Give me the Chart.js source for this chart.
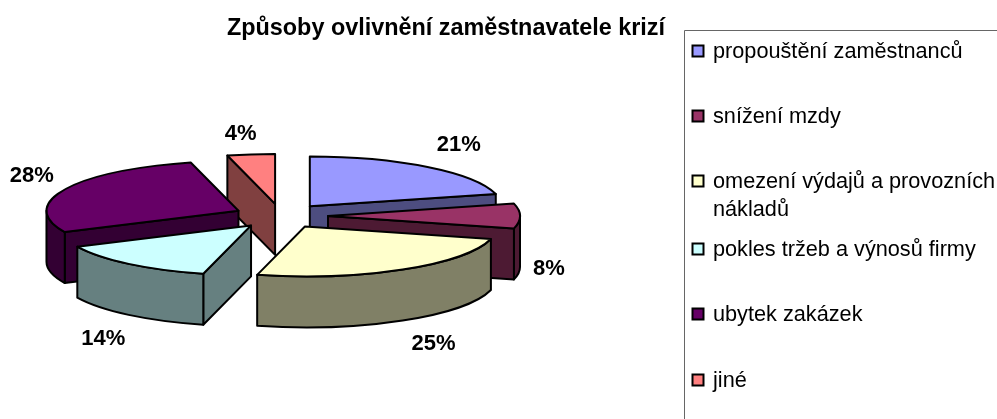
<!DOCTYPE html>
<html>
<head>
<meta charset="utf-8">
<title>Způsoby ovlivnění zaměstnavatele krizí</title>
<script src="https://cdn.jsdelivr.net/npm/chart.js@4"></script>
<style>
    html, body { margin: 0; padding: 0; background: #fff; overflow: hidden; }
    canvas { display: block; }
</style>
</head>
<body>
<canvas id="chart" width="997" height="419"></canvas>
<script>
const chartTitle = 'Způsoby ovlivnění zaměstnavatele krizí';
const categories = [
    'propouštění zaměstnanců',
    'snížení mzdy',
    'omezení výdajů a provozních nákladů',
    'pokles tržeb a výnosů firmy',
    'ubytek zakázek',
    'jiné'
];
const percentages = [21, 8, 25, 14, 28, 4];
const sliceColors = ['#9999FF', '#993366', '#FFFFCC', '#CCFFFF', '#660066', '#FF8080'];
const wallColors = ['#4D4D80', '#4D1A33', '#808066', '#668080', '#330033', '#804040'];

// Legend lines, wrapped the way the original wraps them
const legendLines = [
    ['propouštění zaměstnanců'],
    ['snížení mzdy'],
    ['omezení výdajů a provozních', 'nákladů'],
    ['pokles tržeb a výnosů firmy'],
    ['ubytek zakázek'],
    ['jiné']
];

const FONT = '"Liberation Sans", Arial, sans-serif';

// Doughnut controller drawn as a tilted, extruded pie
class Pie3DController extends Chart.DoughnutController {
    draw() {
        const ctx = this.chart.ctx;
        const opts = this.chart.options.plugins.pie3d;
        const tilt = opts.tilt;
        const depth = opts.depth;
        const slices = this._cachedMeta.data.map((arc, index) => {
            const props = arc.getProps(['startAngle', 'endAngle', 'outerRadius'], true);
            const mid = (props.startAngle + props.endAngle) / 2;
            const off = arc.options.offset;
            return {
                index: index,
                a0: props.startAngle,
                a1: props.endAngle,
                r: props.outerRadius,
                mid: mid,
                ax: opts.centerX + Math.cos(mid) * off,
                ay: opts.centerY + Math.sin(mid) * off * tilt
            };
        });

        // Back to front
        slices.slice().sort((a, b) => a.ay - b.ay).forEach(s => {
            ctx.save();
            ctx.lineWidth = 2;
            ctx.lineJoin = 'round';
            ctx.strokeStyle = '#000';
            ctx.fillStyle = wallColors[s.index];

            const radialWall = angle => {
                const x = s.ax + Math.cos(angle) * s.r;
                const y = s.ay + Math.sin(angle) * s.r * tilt;
                ctx.beginPath();
                ctx.moveTo(s.ax, s.ay);
                ctx.lineTo(x, y);
                ctx.lineTo(x, y + depth);
                ctx.lineTo(s.ax, s.ay + depth);
                ctx.closePath();
                ctx.fill();
                ctx.stroke();
            };
            if (Math.cos(s.a0) < -1e-6) radialWall(s.a0);
            if (Math.cos(s.a1) > 1e-6) radialWall(s.a1);

            // Outer wall, only the part that faces the viewer
            const lo = Math.max(s.a0, 0);
            const hi = Math.min(s.a1, Math.PI);
            if (lo < hi) {
                ctx.beginPath();
                ctx.ellipse(s.ax, s.ay, s.r, s.r * tilt, 0, lo, hi);
                ctx.ellipse(s.ax, s.ay + depth, s.r, s.r * tilt, 0, hi, lo, true);
                ctx.closePath();
                ctx.fill();
                ctx.stroke();
            }

            // Top face
            ctx.fillStyle = sliceColors[s.index];
            ctx.beginPath();
            ctx.moveTo(s.ax, s.ay);
            ctx.ellipse(s.ax, s.ay, s.r, s.r * tilt, 0, s.a0, s.a1);
            ctx.closePath();
            ctx.fill();
            ctx.stroke();
            ctx.restore();
        });

        // Percentage labels
        ctx.save();
        ctx.font = opts.labelFont;
        ctx.fillStyle = '#000';
        ctx.textAlign = 'center';
        ctx.textBaseline = 'middle';
        slices.forEach(s => {
            const nudge = opts.labelNudge[s.index];
            const front = Math.sin(s.mid) > -0.01 ? depth : 0;
            const x = s.ax + Math.cos(s.mid) * opts.labelRadiusX + nudge[0];
            const y = s.ay + Math.sin(s.mid) * opts.labelRadiusY + front + nudge[1];
            ctx.fillText(percentages[s.index] + '%', x, y);
        });
        ctx.restore();
    }
}
Pie3DController.id = 'pie3d';
Chart.register(Pie3DController);

const boxedLegend = {
    id: 'boxedLegend',
    afterDraw(chart, args, opts) {
        const ctx = chart.ctx;
        ctx.save();
        ctx.strokeStyle = '#666';
        ctx.lineWidth = 1;
        ctx.beginPath();
        ctx.moveTo(opts.left + 0.5, chart.height);
        ctx.lineTo(opts.left + 0.5, opts.top + 0.5);
        ctx.lineTo(chart.width, opts.top + 0.5);
        ctx.stroke();

        ctx.font = opts.font;
        ctx.textBaseline = 'alphabetic';
        legendLines.forEach((lines, i) => {
            const y = opts.rows[i];
            ctx.fillStyle = sliceColors[i];
            ctx.strokeStyle = '#000';
            ctx.lineWidth = 2;
            ctx.fillRect(opts.swatchX, y - 5.5, 11, 11);
            ctx.strokeRect(opts.swatchX, y - 5.5, 11, 11);
            ctx.fillStyle = '#000';
            lines.forEach((line, n) => {
                ctx.fillText(line, opts.textX, y + 7 + n * opts.lineHeight);
            });
        });
        ctx.restore();
    }
};

new Chart(document.getElementById('chart'), {
    type: 'pie3d',
    data: {
        labels: categories,
        datasets: [{
            data: percentages,
            backgroundColor: sliceColors,
            offset: 47,
            borderWidth: 0
        }]
    },
    options: {
        responsive: false,
        maintainAspectRatio: false,
        animation: false,
        radius: 192,
        cutout: 0,
        layout: { padding: { right: 105 } },
        plugins: {
            legend: { display: false },
            tooltip: { enabled: false },
            title: {
                display: true,
                text: chartTitle,
                color: '#000',
                font: { family: FONT, size: 23.4, weight: 'bold' },
                padding: { top: 15, bottom: 10 }
            },
            pie3d: {
                centerX: 281,
                centerY: 216,
                tilt: 0.26,
                depth: 51,
                labelFont: 'bold 22px ' + FONT,
                labelRadiusX: 235,
                labelRadiusY: 77,
                labelNudge: [[5, -1], [-14, 2], [9, 0], [2, 3], [6, -2], [-5, 6]]
            },
            boxedLegend: {
                left: 684,
                top: 30,
                swatchX: 692.5,
                textX: 713,
                rows: [51, 116, 181, 249, 314, 380],
                lineHeight: 28,
                font: '21.7px ' + FONT
            }
        }
    },
    plugins: [boxedLegend]
});
</script>
</body>
</html>
